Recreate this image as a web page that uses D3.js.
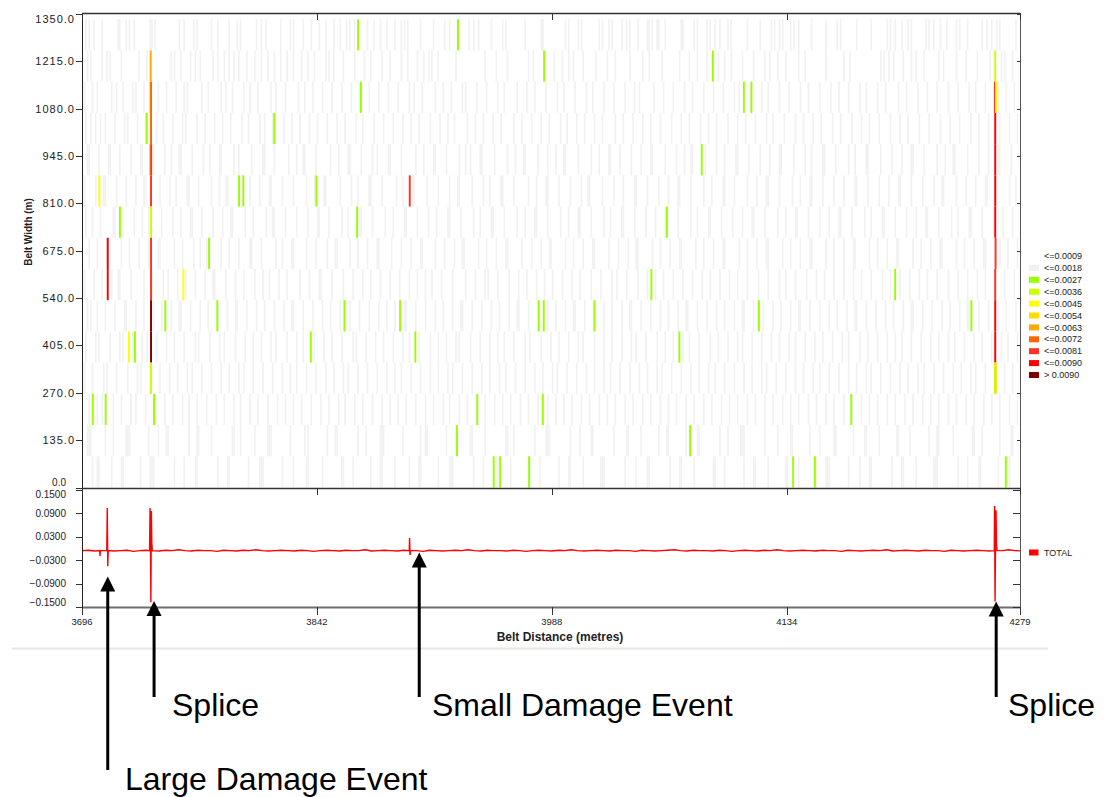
<!DOCTYPE html>
<html><head><meta charset="utf-8">
<script src="https://cdn.jsdelivr.net/npm/d3@7"></script>
<style>
html,body{margin:0;padding:0;background:#fff;}
svg{display:block;font-family:"Liberation Sans",Arial,Helvetica,sans-serif;}
</style>
</head><body>
<svg id="chart" width="1104" height="797"></svg>
<script>
// ---------------- DATA ----------------
const distanceDomain = [3696, 4279];
const distanceTicks = [3696, 3842, 3988, 4134, 4279];
const widthDomain = [0, 1350];
const widthTicks = [0, 135, 270, 405, 540, 675, 810, 945, 1080, 1215, 1350];
const totalDomain = [-0.15, 0.15];
const totalTicks = [-0.15, -0.09, -0.03, 0.03, 0.09, 0.15];
const rowSpan = 89;            // belt width covered by one sensor row
const levelLabels = ["<=0.0009","<=0.0018","<=0.0027","<=0.0036","<=0.0045","<=0.0054","<=0.0063","<=0.0072","<=0.0081","<=0.0090","> 0.0090"];
const levelColors = ["#ffffff","#f1f1f1","#99ff00","#ccff00","#ffff00","#ffdd00","#ffaa00","#ff6600","#ff3322","#ff0000","#800000"];

// low level (<=0.0018) cells: metres after 3696, one list per row (row 0 = bottom)
const lowCells = [
 [6,9,10,18,24,25,36,42,43,44,57,63,70,71,84,90,91,103,110,111,112,124,131,139,140,149,161,162,168,179,185,186,194,203,209,210,221,228,229,230,243,249,257,258,266,277,278,284,296,302,303,311,322,323,324,337,344,351,352,365,371,372,380,392,393,399,411,417,418,426,437,438,445,456,462,463,464,476,483,489,490,503,509,510,518,529,530,531,544,550,557,558,569,575,576],
 [3,4,5,14,19,27,28,29,41,47,52,53,66,71,72,80,93,94,98,107,115,116,117,129,138,140,152,157,158,171,176,185,186,187,199,210,213,214,226,232,241,242,250,263,264,268,281,288,289,290,303,309,316,317,330,338,339,347,358,363,364,375,382,383,396,401,409,410,411,424,432,440,441,452,458,467,468,479,486,487,495,506,507,514,526,531,532,541,553,554,559,570,577,578],
 [4,9,12,19,24,30,33,39,45,51,56,62,66,71,77,83,88,94,98,104,109,115,121,126,131,136,142,148,153,159,163,169,174,180,186,191,196,201,207,213,218,224,228,234,239,245,250,256,261,266,272,277,283,289,294,299,304,310,315,321,326,331,337,342,348,353,359,364,369,375,380,386,391,397,402,407,413,418,424,429,435,440,445,451,456,462,467,473,478,484,489,494,500,505,511,516,522,527,532,538,543,549,554,560,565,570,576,581],
 [1,6,13,15,21,28,34,36,42,48,54,59,65,68,74,80,86,91,97,100,106,112,118,124,129,133,139,145,151,156,162,165,171,177,183,189,194,198,204,210,216,221,227,230,236,242,248,253,259,263,269,275,281,286,292,295,301,307,313,318,324,328,334,340,346,351,357,360,366,372,378,383,389,393,399,405,411,416,422,425,431,437,443,448,454,458,464,470,476,481,487,490,496,502,508,513,519,523,529,535,541,546,552,555,561,567,573,578],
 [2,8,10,17,23,25,31,37,40,46,52,57,63,70,72,79,85,88,95,101,106,111,117,120,127,133,137,144,150,155,161,168,170,176,182,187,193,199,203,209,216,221,226,232,234,241,247,253,258,262,268,275,278,285,291,296,302,308,311,318,324,329,335,341,344,350,357,362,367,373,377,383,390,395,401,407,410,416,422,428,433,439,443,449,455,460,466,472,476,483,488,494,500,505,509,515,521,527,532,538,542,548,554,559,565,571,575,581],
 [3,5,9,14,20,26,27,33,38,44,49,55,60,61,67,73,78,84,90,95,96,102,108,113,119,125,130,131,137,143,149,154,160,164,166,172,178,184,189,194,200,201,207,213,219,224,230,235,236,242,248,254,259,265,270,271,277,283,289,294,300,305,306,312,318,324,329,335,340,341,347,353,359,364,370,375,376,382,388,394,399,405,410,411,417,423,429,434,440,445,446,452,458,464,469,475,480,481,487,493,499,504,510,515,516,522,528,534,539,545,550,551,557,563,569,574,580],
 [1,7,12,18,22,23,30,38,43,50,53,59,64,70,76,81,82,89,95,100,107,112,116,122,127,135,141,147,148,155,162,168,174,179,185,191,197,203,208,213,217,223,230,238,244,250,252,258,265,271,276,282,287,292,298,304,309,316,322,329,332,338,345,351,356,361,367,373,379,385,390,396,402,407,413,420,426,433,437,443,450,456,461,467,473,479,484,490,497,502,508,514,520,525,531,538,544,550,556,561,567,573,579],
 [4,9,15,16,24,29,35,41,47,48,57,62,69,73,77,78,86,91,97,104,105,111,120,124,130,131,139,145,152,157,158,166,171,177,183,184,192,198,204,210,211,219,225,231,236,237,246,251,257,263,264,273,279,285,290,291,300,305,311,317,318,327,333,339,344,345,354,359,365,371,372,381,386,392,398,399,408,413,419,425,426,435,440,446,452,453,462,467,473,479,480,489,494,500,506,507,516,521,527,533,534,543,548,554,560,561,570,575,581],
 [2,6,11,19,20,25,32,37,41,42,49,56,61,67,68,74,81,87,92,93,101,106,114,118,119,126,133,140,146,147,153,161,165,172,173,180,188,193,200,201,208,215,220,227,228,235,243,247,254,255,262,270,275,281,282,289,297,302,308,309,316,324,328,335,336,343,350,356,362,363,370,378,382,389,390,397,404,410,416,417,424,432,437,443,444,451,458,464,470,471,478,486,490,497,498,505,512,518,524,525,532,540,544,551,552,559,566,572,578],
 [1,8,13,14,21,27,33,38,39,48,54,58,65,66,72,80,85,89,90,99,104,110,116,117,124,131,139,144,150,151,160,167,171,178,179,186,195,199,205,206,214,221,228,233,234,242,249,253,260,261,268,277,282,288,289,296,303,310,314,315,323,330,336,343,344,351,358,364,370,371,378,386,391,398,399,405,413,419,425,426,433,441,446,452,453,460,467,473,480,481,488,495,501,507,508,515,522,529,534,535,543,549,555,561,562,568,576,580],
 [3,4,10,16,17,23,30,36,37,44,51,55,60,61,68,75,79,85,86,94,97,105,112,113,119,128,133,137,138,145,154,159,165,166,173,180,183,190,191,198,207,212,218,219,226,234,238,241,247,248,256,264,269,274,275,283,289,294,299,300,308,316,321,327,328,334,341,347,353,354,362,369,374,378,379,387,394,399,406,407,414,421,427,433,434,442,449,453,460,461,468,476,480,487,488,496,503,509,515,516,523,531,536,541,542,550,557,563,569,570,577],
 [2,5,8,11,14,20,26,28,34,39,46,50,56,62,64,71,76,82,87,92,99,103,110,113,118,125,130,135,141,146,152,158,163,170,174,181,187,193,199,204,209,216,222,227,231,239,244,249,255,260,268,273,279,285,290,297,301,307,312,318,323,331,336,342,348,353,359,366,372,377,384,389,394,401,407,412,418,425,429,436,443,448,454,459,466,471,478,484,489,495,502,508,513,520,526,533,539,545,552,557,563,570,576,581],
 [1,6,9,18,21,25,31,33,38,47,52,58,63,65,74,78,86,89,93,100,104,109,117,120,126,134,138,143,149,155,161,167,172,178,184,190,196,203,206,211,219,224,229,236,238,245,251,258,262,270,276,281,288,295,299,306,313,317,324,330,337,343,346,355,361,367,374,379,386,392,398,405,408,415,422,426,433,439,446,451,458,465,470,476,483,487,494,499,507,512,519,525,531,538,544,551,555,561,569,574,579],
 [3,5,12,15,17,24,35,40,55,57,61,67,70,73,81,84,88,91,94,97,102,107,111,115,119,123,127,131,136,140,144,151,153,156,162,169,175,179,186,191,198,202,208,212,215,217,221,232,250,257,264,277,280,293,298,302,305,311,319,326,331,340,348,352,360,371,377,382,388,395,399,403,410,417,424,427,432,437,445,449,462,473,477,496,498,501,504,510,515,518,523,532,535,543,549,556,564,571,573,578],
 [2,4,7,12,22,23,27,29,32,42,43,45,60,63,69,71,80,84,91,96,98,108,111,114,123,129,131,137,142,147,151,156,160,164,166,169,177,181,185,189,194,198,200,202,210,218,225,228,240,243,246,254,261,263,275,285,286,300,302,308,310,321,323,327,329,335,338,340,345,351,352,354,357,358,362,372,373,380,382,388,390,393,396,401,403,413,421,428,430,433,435,440,442,445,453,462,469,471,481,490,500,502,505,509,513,515,524,526,529,533,537,543,545,550,559,562,565,568,570,580]
];

// higher level cells: [belt distance, row, level]
const events = [
 [3867.6,14,2],[3929.7,14,2],
 [3738.7,13,6],[3983.2,13,2],[4088.1,13,2],[4263.6,13,3],
 [3738.2,12,4],[3738.9,12,7],[3869.4,12,2],[4107.4,12,2],[4112.1,12,2],[4263.4,12,8],[4264.1,12,4],
 [3736.2,11,2],[3738.9,11,7],[3815.5,11,2],[4263.6,11,9],
 [3738.4,10,2],[3739.0,10,8],[4081.2,10,2],[4263.6,10,9],
 [3706.8,9,4],[3738.9,9,8],[3793.6,9,2],[3796.3,9,2],[3841.7,9,2],[3899.7,9,8],[4263.6,9,9],
 [3719.6,8,2],[3738.9,8,3],[3867.0,8,2],[4059.5,8,2],[4263.6,8,9],
 [3712.0,7,9],[3738.9,7,8],[3775.0,7,2],[4263.8,7,8],
 [3712.0,6,9],[3738.9,6,8],[3759.0,6,4],[4049.9,6,2],[4201.4,6,2],[4263.6,6,8],
 [3738.9,5,10],[3747.8,5,2],[3780.1,5,2],[3859.1,5,2],[3893.7,5,2],[3979.9,5,2],[3983.0,5,2],[4014.5,5,2],[4116.7,5,2],[4248.8,5,2],[4263.6,5,9],
 [3725.2,4,4],[3728.9,4,2],[3738.9,4,10],[3838.2,4,2],[3903.2,4,2],[4067.3,4,2],[4263.6,4,9],
 [3738.9,3,3],[4263.4,3,3],[4264.0,3,5],
 [3702.7,2,2],[3710.7,2,2],[3740.8,2,2],[3941.7,2,2],[3982.4,2,2],[4174.1,2,2],
 [3929.1,1,2],[4074.0,1,2],
 [3951.9,0,2],[3955.9,0,2],[3973.9,0,2],[4138.0,0,2],[4151.5,0,2],[4270.2,0,2]
];

// TOTAL trace: background readings every 4 m from 3696 (values in thousandths)
const totalStart = 3696, totalStep = 4;
const totalBase = [
 -6,-5,-7,-6,-4,-7,-6,-5,-8,-6,-5,-6,-7,-5,-6,-4,-6,-7,-5,-6,
 -6,-8,-5,-6,-7,-5,-6,-4,-6,-7,-6,-5,-6,-7,-5,-6,-8,-6,-5,-6,
 -7,-5,-6,-6,-4,-7,-6,-5,-6,-7,-5,-6,-6,-8,-5,-6,-7,-6,-5,-6,
 -4,-6,-7,-5,-6,-6,-7,-5,-6,-8,-6,-5,-6,-7,-5,-6,-4,-6,-7,-6,
 -5,-6,-7,-5,-6,-6,-8,-5,-6,-7,-6,-5,-4,-6,-7,-5,-6,-6,-7,-5,
 -6,-8,-6,-5,-6,-7,-5,-6,-4,-6,-7,-6,-5,-6,-7,-5,-6,-6,-8,-5,
 -6,-7,-6,-5,-6,-4,-7,-6,-5,-6,-7,-5,-6,-6,-8,-5,-6,-7,-6,-5,
 -6,-7,-5,-6,-4,-6,-7
];
// TOTAL trace around events: [belt distance, value]
const totalSpikes = [
 [3707.0,-0.006],[3707.2,-0.020],[3707.4,-0.006],
 [3711.4,-0.006],[3711.7,0.103],[3712.0,-0.046],[3712.3,-0.006],
 [3738.0,-0.006],[3738.3,0.103],[3738.6,-0.002],[3738.8,-0.138],[3739.1,0.095],[3739.4,0.012],[3739.7,-0.006],
 [3899.4,-0.006],[3899.6,0.026],[3899.9,-0.017],[3900.2,-0.006],
 [4263.0,-0.006],[4263.2,0.108],[4263.5,-0.136],[4263.8,0.020],[4264.1,0.097],[4264.4,0.010],[4264.7,-0.006]
];

const annotationTexts = ["Large Damage Event","Splice","Small Damage Event","Splice"];
const annotationAt = [3712.0, 3740.8, 3905.6, 4264.2];

// ---------------- DRAW ----------------
const svg = d3.select("#chart");
const X0 = 82, X1 = 1020;
const x = d3.scaleLinear().domain(distanceDomain).range([X0, X1]);
const yH = d3.scaleLinear().domain(widthDomain).range([487.5, 14]);
const yT = d3.scaleLinear().domain(totalDomain).range([607, 489.5]);
const axisCol = "#333";

svg.append("rect").attr("width",1104).attr("height",797).attr("fill","#fff");

// heatmap cells
const heat = svg.append("g");
lowCells.forEach((row, r) => {
  heat.selectAll(null).data(row).enter().append("rect")
    .attr("x", d => x(distanceDomain[0] + d))
    .attr("width", x(1) - x(0))
    .attr("y", yH((r + 1) * rowSpan))
    .attr("height", yH(r * rowSpan) - yH((r + 1) * rowSpan))
    .attr("fill", levelColors[1]);
});
heat.selectAll(null).data(events).enter().append("rect")
  .attr("x", d => x(d[0] - 0.6))
  .attr("width", d => x(d[0] + 0.6) - x(d[0] - 0.6))
  .attr("y", d => yH((d[1] + 1) * rowSpan))
  .attr("height", d => yH(d[1] * rowSpan) - yH((d[1] + 1) * rowSpan))
  .attr("fill", d => levelColors[d[2]]);

// TOTAL line
svg.append("clipPath").attr("id","clipT").append("rect")
  .attr("x", X0).attr("y", 489).attr("width", X1 - X0).attr("height", 118);
const basePts = totalBase.map((v, i) => [totalStart + i * totalStep, v / 1000])
  .filter(p => !totalSpikes.some(s => Math.abs(s[0] - p[0]) < 0.5));
const totalPts = basePts.concat(totalSpikes).sort((a, b) => a[0] - b[0]);
svg.append("path").attr("clip-path","url(#clipT)")
  .attr("d", d3.line().x(d => x(d[0])).y(d => yT(d[1]))(totalPts))
  .attr("fill","none").attr("stroke","#ff0000").attr("stroke-width",1.4);

// frames / axes
const frame = svg.append("g").attr("stroke", axisCol).attr("fill","none");
frame.append("line").attr("x1",X0).attr("x2",X1).attr("y1",13.5).attr("y2",13.5).attr("stroke-width",1.5);
frame.append("line").attr("x1",X1+0.5).attr("x2",X1+0.5).attr("y1",13).attr("y2",608).attr("stroke","#555");
frame.append("line").attr("x1",X0).attr("x2",X1).attr("y1",488.5).attr("y2",488.5).attr("stroke-width",1.5);
frame.append("line").attr("x1",X0).attr("x2",X1+1).attr("y1",607.5).attr("y2",607.5).attr("stroke","#6e6e6e").attr("stroke-width",2);
frame.append("line").attr("x1",X0+0.5).attr("x2",X0+0.5).attr("y1",13).attr("y2",608).attr("stroke","#222");

// tick marks
const ticks = svg.append("g").attr("stroke", axisCol).attr("stroke-width",1);
widthTicks.forEach(v => {
  const yy = Math.round(yH(v)) + 0.5;
  ticks.append("line").attr("x1",X0-6).attr("x2",X0).attr("y1",yy).attr("y2",yy);
  ticks.append("line").attr("x1",X1-3).attr("x2",X1).attr("y1",yy).attr("y2",yy);
});
totalTicks.forEach(v => {
  const yy = Math.round(yT(v)) + 0.5;
  ticks.append("line").attr("x1",X0-6).attr("x2",X0).attr("y1",yy).attr("y2",yy);
  ticks.append("line").attr("x1",X1-7).attr("x2",X1).attr("y1",yy).attr("y2",yy);
});
distanceTicks.forEach(v => {
  const xx = Math.round(x(v)) + 0.5;
  ticks.append("line").attr("x1",xx).attr("x2",xx).attr("y1",13).attr("y2",20);
  ticks.append("line").attr("x1",xx).attr("x2",xx).attr("y1",488).attr("y2",495);
  ticks.append("line").attr("x1",xx).attr("x2",xx).attr("y1",607).attr("y2",615);
});

// tick labels
const lab = svg.append("g").attr("fill","#222");
widthTicks.forEach(v => {
  const yy = Math.min(Math.max(yH(v), 19), 482.5);
  const small = v === 0;
  lab.append("text").attr("x", small ? 66 : 75).attr("y", yy).attr("dy","0.36em")
    .attr("text-anchor","end").attr("font-size", small ? 10 : 11)
    .attr("letter-spacing", small ? 0 : 1)
    .text(d3.format(".1f")(v));
});
totalTicks.forEach(v => {
  const yy = Math.min(Math.max(yT(v), 494), 602);
  lab.append("text").attr("x",66).attr("y",yy).attr("dy","0.36em")
    .attr("text-anchor","end").attr("font-size",10).text(d3.format(".4f")(v));
});
distanceTicks.forEach(v => {
  lab.append("text").attr("x", x(v)).attr("y", 624.5).attr("text-anchor","middle")
    .attr("font-size", 9.5).text(v);
});
lab.append("text").attr("x",560).attr("y",641).attr("text-anchor","middle")
  .attr("font-size",12).attr("font-weight","bold").text("Belt Distance (metres)");
lab.append("text").attr("transform","translate(31.5,232) rotate(-90)").attr("text-anchor","middle")
  .attr("font-size",10).attr("font-weight","bold").text("Belt Width (m)");

// legend
const leg = svg.append("g");
levelLabels.forEach((t, i) => {
  const cy = 256 + i * 11.9;
  leg.append("rect").attr("x",1029).attr("y",cy - 3).attr("width",10).attr("height",6).attr("fill",levelColors[i]);
  leg.append("text").attr("x",1044).attr("y",cy).attr("dy","0.35em").attr("font-size",9).attr("fill","#222").text(t);
});
leg.append("rect").attr("x",1029).attr("y",549.5).attr("width",9.5).attr("height",6).attr("fill","#ff0000");
leg.append("text").attr("x",1044).attr("y",552.8).attr("dy","0.35em").attr("font-size",9).attr("fill","#222").text("TOTAL");

// separator
svg.append("line").attr("x1",12).attr("x2",1048).attr("y1",648.5).attr("y2",648.5)
  .attr("stroke","#e6e6e2").attr("stroke-width",2);

// annotations
const annTip = [576.5, 601, 552.5, 601.5];
const annEnd = [770, 697, 697, 697];
const annTextX = [125, 172, 432, 1008];
const annTextY = [789.5, 716, 716, 716];
const ann = svg.append("g");
annotationTexts.forEach((t, i) => {
  const ax = x(annotationAt[i]);
  ann.append("line").attr("x1",ax).attr("x2",ax).attr("y1",annTip[i] + 10).attr("y2",annEnd[i])
    .attr("stroke","#000").attr("stroke-width",3);
  ann.append("path").attr("d", `M${ax},${annTip[i]} L${ax-7.5},${annTip[i]+15} L${ax+7.5},${annTip[i]+15} Z`)
    .attr("fill","#000");
  ann.append("text").attr("x",annTextX[i]).attr("y",annTextY[i]).attr("font-size",32)
    .attr("fill","#000").text(t);
});
</script>
</body></html>
